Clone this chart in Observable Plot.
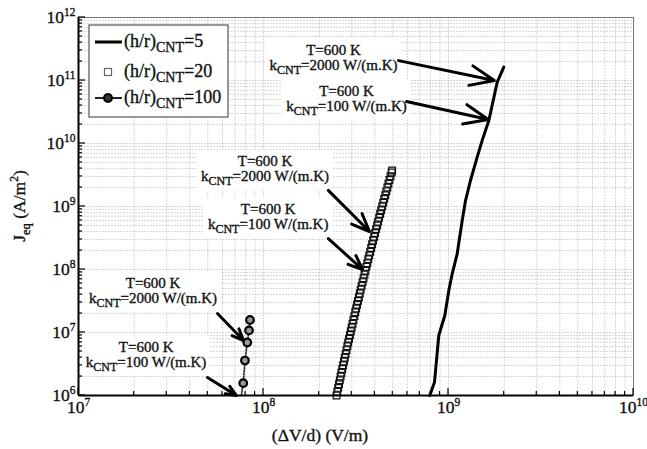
<!DOCTYPE html>
<html><head><meta charset="utf-8">
<script src="https://cdn.jsdelivr.net/npm/d3@7"></script>
<script src="https://cdn.jsdelivr.net/npm/@observablehq/plot@0.6"></script>
<style>
body{margin:0;background:#fff;}
#chart{width:647px;height:449px;}
svg{font-family:"Liberation Serif","Times New Roman",serif;}
svg text{stroke:#111;stroke-width:0.35px;}
</style></head><body><div id="chart"></div>
<script>
// ---- data ----
const xDomain = [1e7, 1e10];
const yDomain = [1e6, 1e12];
const xTicks = [1e7, 1e8, 1e9, 1e10];
const yTicks = [1e6, 1e7, 1e8, 1e9, 1e10, 1e11, 1e12];
const seriesLabels = ["(h/r)_{CNT}=5", "(h/r)_{CNT}=20", "(h/r)_{CNT}=100"];
const xLabel = "(ΔV/d) (V/m)";
const yLabel = "J_{eq} (A/m^{2})";

// (h/r)=5 : solid line
const hr5E = [7.92e8, 8.40e8, 8.86e8, 9.55e8, 1.004e9, 1.047e9, 1.114e9, 1.186e9, 1.236e9, 1.315e9, 1.429e9, 1.521e9, 1.652e9, 1.834e9, 1.99e9];
const hr5J = [1.0e6, 1.63e6, 8.96e6, 1.86e7, 4.64e7, 8.55e7, 1.77e8, 6.0e8, 1.24e9, 2.59e9, 6.07e9, 1.12e10, 2.32e10, 9.4e10, 1.63e11];

// (h/r)=20 : hollow squares
const hr20E = [2.483e8, 2.507e8, 2.533e8, 2.559e8, 2.585e8, 2.611e8, 2.638e8, 2.665e8, 2.693e8, 2.722e8,
  2.750e8, 2.780e8, 2.809e8, 2.839e8, 2.870e8, 2.901e8, 2.933e8,
  2.965e8, 2.997e8, 3.030e8, 3.064e8, 3.098e8, 3.133e8, 3.168e8, 3.204e8, 3.241e8, 3.278e8, 3.316e8, 3.354e8, 3.393e8, 3.432e8, 3.473e8, 3.514e8, 3.555e8,
  3.597e8, 3.640e8, 3.684e8, 3.728e8, 3.773e8, 3.819e8, 3.866e8, 3.913e8, 3.963e8, 4.011e8, 4.062e8, 4.113e8, 4.164e8, 4.217e8, 4.271e8, 4.325e8,
  4.381e8, 4.437e8, 4.494e8, 4.553e8, 4.613e8, 4.673e8, 4.735e8, 4.797e8, 4.861e8, 4.926e8, 4.958e8];
const hr20J = [1.00e6, 1.15e6, 1.32e6, 1.51e6, 1.74e6, 2.00e6, 2.29e6, 2.63e6, 3.02e6, 3.47e6,
  3.98e6, 4.57e6, 5.25e6, 6.03e6, 6.92e6, 7.94e6, 9.12e6,
  1.05e7, 1.20e7, 1.38e7, 1.58e7, 1.82e7, 2.09e7, 2.40e7, 2.75e7, 3.16e7, 3.63e7, 4.17e7, 4.79e7, 5.50e7, 6.31e7, 7.24e7, 8.32e7, 9.55e7,
  1.10e8, 1.26e8, 1.45e8, 1.66e8, 1.91e8, 2.19e8, 2.51e8, 2.88e8, 3.31e8, 3.80e8, 4.37e8, 5.01e8, 5.75e8, 6.61e8, 7.59e8, 8.71e8,
  1.00e9, 1.15e9, 1.32e9, 1.51e9, 1.74e9, 2.00e9, 2.29e9, 2.63e9, 3.02e9, 3.47e9, 3.72e9];

// (h/r)=100 : circles on dotted line
const hr100E = [7.58e7, 7.77e7, 7.94e7, 8.17e7, 8.35e7, 8.45e7];
const hr100J = [1.0e6, 1.57e6, 3.59e6, 6.94e6, 1.08e7, 1.58e7];

// annotations
const noteText = [
  "T=600 K\nk_{CNT}=2000 W/(m.K)", "T=600 K\nk_{CNT}=100 W/(m.K)",
  "T=600 K\nk_{CNT}=2000 W/(m.K)", "T=600 K\nk_{CNT}=100 W/(m.K)",
  "T=600 K\nk_{CNT}=2000 W/(m.K)", "T=600 K\nk_{CNT}=100 W/(m.K)"];
const noteE = [2.39e8, 2.81e8, 1.02e8, 1.06e8, 2.53e7, 2.32e7];
const noteJ = [2.32e11, 5.18e10, 3.94e9, 6.81e8, 4.64e7, 4.48e6];
const arrowFromE = [5.37e8, 5.93e8, 2.24e8, 2.24e8, 5.64e7, 4.98e7];
const arrowFromJ = [2.07e11, 4.64e10, 1.80e9, 3.10e8, 2.0e7, 1.93e6];
const arrowToE = [1.77e9, 1.64e9, 3.74e8, 3.43e8, 7.80e7, 7.14e7];
const arrowToJ = [1.0e11, 2.40e10, 4.01e8, 1.0e8, 7.46e6, 1.0e6];

// ---- tables ----
const hr5 = hr5E.map((e, i) => ({E: e, J: hr5J[i]}));
const hr20 = hr20E.map((e, i) => ({E: e, J: hr20J[i]}));
const hr100 = hr100E.map((e, i) => ({E: e, J: hr100J[i]}));
const notes = noteText.map((t, i) => ({t, E: noteE[i], J: noteJ[i]}));
const arrows = arrowFromE.map((e, i) => ({x1: e, y1: arrowFromJ[i], x2: arrowToE[i], y2: arrowToJ[i]}));
const xGrid = d3.scaleLog().domain(xDomain).ticks();
const yGrid = d3.scaleLog().domain(yDomain).ticks();
const sup = d => `10^{${Math.round(Math.log10(d))}}`;

const plot = Plot.plot({
  width: 647, height: 449,
  marginLeft: 78, marginRight: 14, marginTop: 17, marginBottom: 54,
  x: {type: "log", domain: xDomain},
  y: {type: "log", domain: yDomain},
  style: {fontFamily: "'Liberation Serif','Times New Roman',serif", fontSize: "17px", color: "#111", background: "white"},
  marks: [
    Plot.gridX(xGrid, {stroke: "#999", strokeOpacity: 0.5, strokeWidth: 0.8, strokeDasharray: "2,1"}),
    Plot.gridY(yGrid, {stroke: "#999", strokeOpacity: 0.5, strokeWidth: 0.8, strokeDasharray: "2,1"}),
    Plot.frame({stroke: "#777", strokeWidth: 1}),
    Plot.line(hr5, {x: "E", y: "J", stroke: "#000", strokeWidth: 3, strokeLinejoin: "round"}),
    Plot.dot(hr20, {x: "E", y: "J", symbol: "square", r: 3.8, stroke: "#111", strokeWidth: 1.2, fill: "none"}),
    Plot.line(hr100, {x: "E", y: "J", stroke: "#222", strokeWidth: 1.6, strokeDasharray: "1.5,1.5"}),
    Plot.dot(hr100.filter(d => d.J > yDomain[0]), {x: "E", y: "J", r: 3.8, stroke: "#000", strokeWidth: 2.2, fill: "#999"}),
    Plot.text(notes, {x: "E", y: "J", text: "t", textAnchor: "middle", lineAnchor: "middle", lineHeight: 1.0, fontSize: 15, fill: "#111"}),
    Plot.arrow(arrows, {x1: "x1", y1: "y1", x2: "x2", y2: "y2", stroke: "#000", strokeWidth: 3, headLength: 13, headAngle: 45}),
    Plot.ruleX([xDomain[0]], {stroke: "#000", strokeWidth: 2}),
    Plot.ruleY([yDomain[0]], {stroke: "#000", strokeWidth: 2}),
    Plot.axisX(xTicks, {tickSize: 0, tickPadding: 5, tickFormat: sup, fontSize: 17.5, label: null}),
    Plot.axisY(yTicks, {tickSize: 0, tickPadding: 3, tickFormat: sup, fontSize: 17.5, label: null})
  ]
});
document.getElementById("chart").append(plot);

// ---- rich text (sub/superscripts) ----
const NS = "http://www.w3.org/2000/svg";
function richText(el, str, subSize, supSize, subShift, supShift) {
  el.textContent = "";
  const parts = str.split(/(_\{[^}]*\}|\^\{[^}]*\})/).filter(s => s !== "");
  let off = 0;
  for (const p of parts) {
    const t = document.createElementNS(NS, "tspan");
    let txt = p, dy;
    if (p.startsWith("_{")) { txt = p.slice(2, -1); dy = subShift - off; off = subShift; t.setAttribute("font-size", subSize); }
    else if (p.startsWith("^{")) { txt = p.slice(2, -1); dy = -supShift - off; off = -supShift; t.setAttribute("font-size", supSize); }
    else { dy = -off; off = 0; }
    if (dy) t.setAttribute("dy", dy);
    t.textContent = txt;
    el.appendChild(t);
  }
}
const svg = plot;
svg.querySelectorAll('g[aria-label="x-axis tick label"] text, g[aria-label="y-axis tick label"] text').forEach(el => {
  richText(el, el.textContent, 11.5, 11.5, 5, 7);
});

// annotation text: subscripts + white boxes
const noteG = svg.querySelector('g[aria-label="text"]');
noteG.querySelectorAll("tspan").forEach(ts => {
  if (ts.textContent.includes("_{")) richText(ts, ts.textContent, 12, 12, 4, 6);
});
const boxG = document.createElementNS(NS, "g");
noteG.parentNode.insertBefore(boxG, noteG);
noteG.querySelectorAll(":scope > text").forEach(el => {
  const b = el.getBBox();
  const ctm = el.getAttribute("transform");
  const r = document.createElementNS(NS, "rect");
  r.setAttribute("x", b.x - 4); r.setAttribute("y", b.y - 3);
  r.setAttribute("width", b.width + 8); r.setAttribute("height", b.height + 5);
  r.setAttribute("fill", "white");
  if (ctm) r.setAttribute("transform", ctm);
  boxG.appendChild(r);
});

// inside ticks on left and bottom axes
const sx = plot.scale("x"), sy = plot.scale("y");
const tg = d3.select(svg).append("g").attr("stroke", "#000").attr("stroke-width", 1.2);
const y0 = sy.apply(yDomain[0]), x0 = sx.apply(xDomain[0]);
xGrid.forEach(v => {
  const major = xTicks.includes(v);
  tg.append("line").attr("x1", sx.apply(v)).attr("x2", sx.apply(v)).attr("y1", y0).attr("y2", y0 - (major ? 7 : 4));
});
yGrid.forEach(v => {
  const major = yTicks.includes(v);
  tg.append("line").attr("y1", sy.apply(v)).attr("y2", sy.apply(v)).attr("x1", x0).attr("x2", x0 + (major ? 7 : 4));
});

// axis titles
const s = d3.select(svg);
const xt = s.append("text").attr("x", 320).attr("y", 441).attr("text-anchor", "middle").attr("font-size", 17.5).attr("fill", "#111");
richText(xt.node(), xLabel, 12, 12, 5, 7);
const yt = s.append("text").attr("transform", "translate(25,206) rotate(-90)").attr("text-anchor", "middle").attr("font-size", 17.5).attr("fill", "#111");
richText(yt.node(), yLabel, 12.5, 11.5, 5, 7);

// legend
const lg = s.append("g");
lg.append("rect").attr("x", 89).attr("y", 25).attr("width", 139).attr("height", 92)
  .attr("fill", "white").attr("stroke", "#555").attr("stroke-width", 1.2);
const rowY = [42, 72, 98];
lg.append("line").attr("x1", 95).attr("x2", 122).attr("y1", rowY[0]).attr("y2", rowY[0]).attr("stroke", "#000").attr("stroke-width", 3);
lg.append("rect").attr("x", 104.5).attr("y", rowY[1] - 3.5).attr("width", 7).attr("height", 7).attr("fill", "white").attr("stroke", "#666").attr("stroke-width", 1.2);
lg.append("line").attr("x1", 95).attr("x2", 122).attr("y1", rowY[2]).attr("y2", rowY[2]).attr("stroke", "#222").attr("stroke-width", 2);
lg.append("circle").attr("cx", 108).attr("cy", rowY[2]).attr("r", 4).attr("fill", "#333").attr("stroke", "#000").attr("stroke-width", 2);
seriesLabels.forEach((lab, i) => {
  const t = lg.append("text").attr("x", 124).attr("y", rowY[i] + 5).attr("text-anchor", "start").attr("font-size", 18).attr("fill", "#111");
  richText(t.node(), lab, 14, 14, 5, 7);
});
</script></body></html>
